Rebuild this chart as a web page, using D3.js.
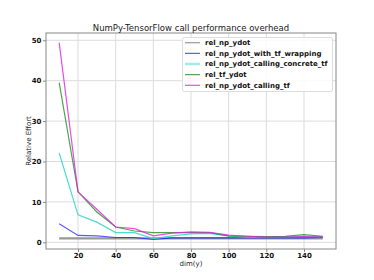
<!DOCTYPE html>
<html>
<head>
<meta charset="utf-8">
<script src="https://cdn.jsdelivr.net/npm/d3@7"></script>
<style>
  body { margin: 0; background: #fff; }
  svg { display: block; font-family: "DejaVu Sans", sans-serif; }
</style>
</head>
<body>
<div id="chart"></div>
<script>
// dims along x
var dims = [10, 20, 30, 40, 50, 60, 70, 80, 90, 100, 110, 120, 130, 140, 150];

var relNpYdot = [1, 1, 1, 1, 1, 1, 1, 1, 1, 1, 1, 1, 1, 1, 1];
var relNpYdotWithTfWrapping = [4.6, 1.7, 1.6, 1.2, 1.2, 0.7, 1.1, 1.1, 1.1, 1.1, 1.1, 1.1, 1.1, 1.1, 1.2];
var relNpYdotCallingConcreteTf = [22.1, 6.8, 5.0, 2.4, 2.4, 0.9, 1.6, 2.1, 2.2, 1.5, 1.3, 1.3, 1.4, 1.5, 1.4];
var relTfYdot = [39.5, 12.5, 7.5, 3.8, 2.8, 2.4, 2.4, 2.4, 2.4, 1.6, 1.5, 1.4, 1.5, 1.9, 1.5];
var relNpYdotCallingTf = [49.4, 12.5, 8.2, 3.8, 3.4, 1.6, 2.3, 2.6, 2.5, 1.8, 1.5, 1.3, 1.3, 1.4, 1.3];

var seriesNames = ["rel_np_ydot", "rel_np_ydot_with_tf_wrapping", "rel_np_ydot_calling_concrete_tf", "rel_tf_ydot", "rel_np_ydot_calling_tf"];
var seriesValues = [relNpYdot, relNpYdotWithTfWrapping, relNpYdotCallingConcreteTf, relTfYdot, relNpYdotCallingTf];
var colors = ["#808080", "#0000ff", "#30d5c8", "#008000", "#e020e0"];
var widths = [2.2, 1.2, 1.2, 1.2, 1.2];
var opac = [0.8, 0.65, 0.85, 0.7, 0.8];

var xTicks = [20, 40, 60, 80, 100, 120, 140];
var yTicks = [0, 10, 20, 30, 40, 50];

var W = 374, H = 280;
var m = {left: 46, right: 336, top: 33, bottom: 249};

var svg = d3.select("#chart").append("svg")
    .attr("width", W)
    .attr("height", H);

var x = d3.scaleLinear().domain([3, 157]).range([m.left, m.right]);
var y = d3.scaleLinear().domain([-1.65, 51.8]).range([m.bottom, m.top]);

// grid
svg.append("g").selectAll("line")
    .data(xTicks).enter().append("line")
    .attr("x1", function(d){ return x(d); })
    .attr("x2", function(d){ return x(d); })
    .attr("y1", m.top).attr("y2", m.bottom)
    .attr("stroke", "#dcdcdc").attr("stroke-width", 1);
svg.append("g").selectAll("line")
    .data(yTicks).enter().append("line")
    .attr("y1", function(d){ return y(d); })
    .attr("y2", function(d){ return y(d); })
    .attr("x1", m.left).attr("x2", m.right)
    .attr("stroke", "#dcdcdc").attr("stroke-width", 1);

// axes
var xAxis = svg.append("g")
    .attr("transform", "translate(0," + m.bottom + ")")
    .call(d3.axisBottom(x).tickValues(xTicks).tickSize(3).tickPadding(1.5));
var yAxis = svg.append("g")
    .attr("transform", "translate(" + m.left + ",0)")
    .call(d3.axisLeft(y).tickValues(yTicks).tickSize(3).tickPadding(1.5));
[xAxis, yAxis].forEach(function(a){
  a.select(".domain").remove();
  a.selectAll("line").attr("stroke", "#888");
  a.selectAll("text")
    .attr("font-size", 7)
    .attr("font-weight", "bold")
    .attr("fill", "#111")
    .attr("font-family", "DejaVu Sans");
});

// lines
var line = d3.line()
    .x(function(d, i){ return x(dims[i]); })
    .y(function(d){ return y(d); });

svg.append("g").selectAll("path")
    .data(seriesValues).enter().append("path")
    .attr("d", line)
    .attr("fill", "none")
    .attr("stroke", function(d, i){ return colors[i]; })
    .attr("stroke-width", function(d, i){ return widths[i]; })
    .attr("stroke-opacity", function(d, i){ return opac[i]; });

// frame
svg.append("rect")
    .attr("x", m.left).attr("y", m.top)
    .attr("width", m.right - m.left).attr("height", m.bottom - m.top)
    .attr("fill", "none").attr("stroke", "#888").attr("stroke-width", 1);

// title and labels
svg.append("text")
    .attr("x", (m.left + m.right) / 2).attr("y", 31)
    .attr("text-anchor", "middle")
    .attr("font-size", 8.5).attr("fill", "#222")
    .text("NumPy-TensorFlow call performance overhead");
svg.append("text")
    .attr("x", (m.left + m.right) / 2).attr("y", 266)
    .attr("text-anchor", "middle")
    .attr("font-size", 7).attr("fill", "#222")
    .text("dim(y)");
svg.append("text")
    .attr("transform", "translate(30.5," + ((m.top + m.bottom) / 2) + ") rotate(-90)")
    .attr("text-anchor", "middle")
    .attr("font-size", 7).attr("fill", "#222")
    .text("Relative Effort");

// legend
var lg = svg.append("g");
lg.append("rect")
    .attr("x", 182.5).attr("y", 37.5)
    .attr("width", 150).attr("height", 54)
    .attr("rx", 2)
    .attr("fill", "#fff").attr("fill-opacity", 0.85)
    .attr("stroke", "#ddd");
var items = lg.selectAll("g.item")
    .data(seriesNames).enter().append("g")
    .attr("class", "item")
    .attr("transform", function(d, i){ return "translate(0," + (42.7 + i * 10.65) + ")"; });
items.append("line")
    .attr("x1", 185).attr("x2", 200)
    .attr("stroke", function(d, i){ return colors[i]; })
    .attr("stroke-width", function(d, i){ return i === 2 ? 2.5 : 1.2; })
    .attr("stroke-opacity", function(d, i){ return i === 2 ? 0.45 : opac[i]; });
items.append("text")
    .attr("x", 205).attr("dy", "0.35em")
    .attr("font-size", 7).attr("font-weight", "bold").attr("fill", "#111")
    .text(function(d){ return d; });
</script>
</body>
</html>
